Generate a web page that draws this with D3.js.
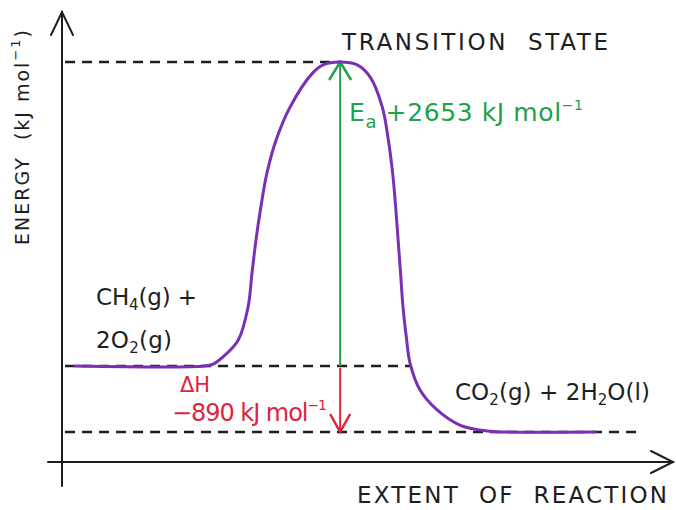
<!DOCTYPE html>
<html>
<head>
<meta charset="utf-8">
<script src="https://cdn.jsdelivr.net/npm/d3@7"></script>
<style>
  html, body { margin: 0; padding: 0; background: #fff; }
  svg { display: block; }
  text { font-family: "DejaVu Sans", "Noto Sans", sans-serif; white-space: pre; }
</style>
</head>
<body>
<div id="chart"></div>
<script>
// ---------- data ----------
const levelNames = ["reactants", "transition state", "products"];
const levelEnergies = [0, 2653, -890];            // kJ mol^-1 relative to reactants
const levelExtents = [[0.5, 57.2], [0.5, 45.6], [0.5, 94.6]]; // dashed guide lines (extent units)

// reaction profile (extent of reaction, energy kJ mol^-1)
const profileExtent = [2.1, 23.4, 24.8, 26.4, 28.9, 30.5, 31.15, 31.8, 32.6, 33.6, 35.1, 37.4, 41.1, 42.8, 45.6,
                       48.4, 50.5, 52.5, 53.5, 54.2, 54.7, 55.1, 55.5, 55.9, 56.5, 57.05,
                       58.7, 61.5, 65.2, 69.7, 72.5, 87.4];
const profileEnergy = [0, 0, 17, 79, 227, 515, 812, 1100, 1388, 1685, 1973, 2261, 2558, 2628, 2653,
                       2628, 2523, 2261, 1973, 1685, 1388, 1100, 812, 515, 227, 26,
                       -324, -593, -796, -877, -890, -890];

const eaValue = 2653;
const dHValue = -890;
const arrowExtent = 45.6;

// ---------- layout ----------
const W = 676, H = 510;
const axisX = 62, axisY = 462;

const x = d3.scaleLinear().domain([0, 100]).range([62, 672]);
const y = d3.scaleLinear().domain([-890, 0, 2653]).range([432, 366, 62]);

const svg = d3.select("#chart").append("svg")
  .attr("width", W).attr("height", H)
  .attr("viewBox", `0 0 ${W} ${H}`);

const ink = "#1e1e1e";
const purple = "#7a2fb5";
const green = "#22a04a";
const red = "#e0243f";

// ---------- axes ----------
const axes = svg.append("g").attr("stroke", ink).attr("stroke-width", 2).attr("fill", "none")
  .attr("stroke-linecap", "round");
axes.append("line").attr("x1", axisX).attr("y1", 486).attr("x2", axisX).attr("y2", 12);
axes.append("path").attr("d", `M${axisX - 11},35 L${axisX},12 L${axisX + 11},35`);
axes.append("line").attr("x1", 48).attr("y1", axisY).attr("x2", 673).attr("y2", axisY);
axes.append("path").attr("d", `M651,${axisY - 11} L673,${axisY} L651,${axisY + 11}`);

// ---------- dashed level guides ----------
svg.append("g").selectAll("line").data(levelEnergies).join("line")
  .attr("x1", (d, i) => x(levelExtents[i][0]))
  .attr("x2", (d, i) => x(levelExtents[i][1]))
  .attr("y1", d => y(d)).attr("y2", d => y(d))
  .attr("stroke", ink).attr("stroke-width", 2.5)
  .attr("stroke-dasharray", "10,7");

// ---------- arrows ----------
svg.append("line")
  .attr("x1", x(arrowExtent)).attr("x2", x(arrowExtent))
  .attr("y1", y(0)).attr("y2", y(eaValue))
  .attr("stroke", green).attr("stroke-width", 2);
svg.append("path")
  .attr("d", `M${x(arrowExtent) - 11},${y(eaValue) + 18} L${x(arrowExtent)},${y(eaValue)} L${x(arrowExtent) + 11},${y(eaValue) + 18}`)
  .attr("fill", "none").attr("stroke", green).attr("stroke-width", 2.5);
svg.append("line")
  .attr("x1", x(arrowExtent)).attr("x2", x(arrowExtent))
  .attr("y1", y(0) + 2).attr("y2", y(dHValue))
  .attr("stroke", red).attr("stroke-width", 2);
svg.append("path")
  .attr("d", `M${x(arrowExtent) - 10},${y(dHValue) - 18} L${x(arrowExtent)},${y(dHValue)} L${x(arrowExtent) + 10},${y(dHValue) - 18}`)
  .attr("fill", "none").attr("stroke", red).attr("stroke-width", 2.5);

// ---------- profile curve ----------
const pts = profileExtent.map((e, i) => [e, profileEnergy[i]]);
svg.append("path")
  .datum(pts)
  .attr("d", d3.line().x(d => x(d[0])).y(d => y(d[1])).curve(d3.curveCatmullRom.alpha(0.5)))
  .attr("fill", "none").attr("stroke", purple).attr("stroke-width", 3)
  .attr("stroke-linecap", "round");

// ---------- text ----------
function addText(g, parts, attrs) {
  const t = g.append("text");
  Object.entries(attrs).forEach(([k, v]) => t.attr(k, v));
  parts.forEach(p => {
    const s = t.append("tspan").text(p.t);
    if (p.dy) s.attr("dy", p.dy);
    if (p.fs) s.attr("font-size", p.fs);
    if (p.dx) s.attr("dx", p.dx);
  });
  return t;
}

// y-axis label
addText(svg, [
  { t: "ENERGY  (kJ mol" }, { t: "−1", fs: 13, dy: -9 }, { t: ")", dy: 9 }
], { transform: "translate(29,245) rotate(-90)", "font-size": 19, fill: ink, textLength: 215 });

// transition state
addText(svg, [{ t: "TRANSITION  STATE" }],
  { x: 342, y: 50, "font-size": 23, fill: ink, textLength: 266 });

// Ea label
addText(svg, [
  { t: "E" }, { t: "a", fs: 18, dy: 7 }, { t: " +2653 kJ mol", dy: -7 },
  { t: "−1", fs: 14, dy: -11 }
], { x: 349, y: 121, "font-size": 25, fill: green, textLength: 234 });

// reactants
addText(svg, [{ t: "CH" }, { t: "4", fs: 15, dy: 5 }, { t: "(g) +", dy: -5 }],
  { x: 96, y: 305, "font-size": 23, fill: ink, textLength: 101 });
addText(svg, [{ t: "2O" }, { t: "2", fs: 15, dy: 5 }, { t: "(g)", dy: -5 }],
  { x: 96, y: 348, "font-size": 23, fill: ink, textLength: 76 });

// dH label
addText(svg, [{ t: "ΔH" }], { x: 180, y: 392, "font-size": 21, fill: red });
addText(svg, [{ t: "−890 kJ mol" }, { t: "−1", fs: 14, dy: -11 }],
  { x: 172, y: 421, "font-size": 24, fill: red, textLength: 155 });

// products
addText(svg, [
  { t: "CO" }, { t: "2", fs: 15, dy: 5 }, { t: "(g) + 2H", dy: -5 },
  { t: "2", fs: 15, dy: 5 }, { t: "O(l)", dy: -5 }
], { x: 455, y: 400, "font-size": 23, fill: ink, textLength: 195 });

// x-axis label
addText(svg, [{ t: "EXTENT  OF  REACTION" }],
  { x: 357, y: 503, "font-size": 23, fill: ink, textLength: 310 });
</script>
</body>
</html>
